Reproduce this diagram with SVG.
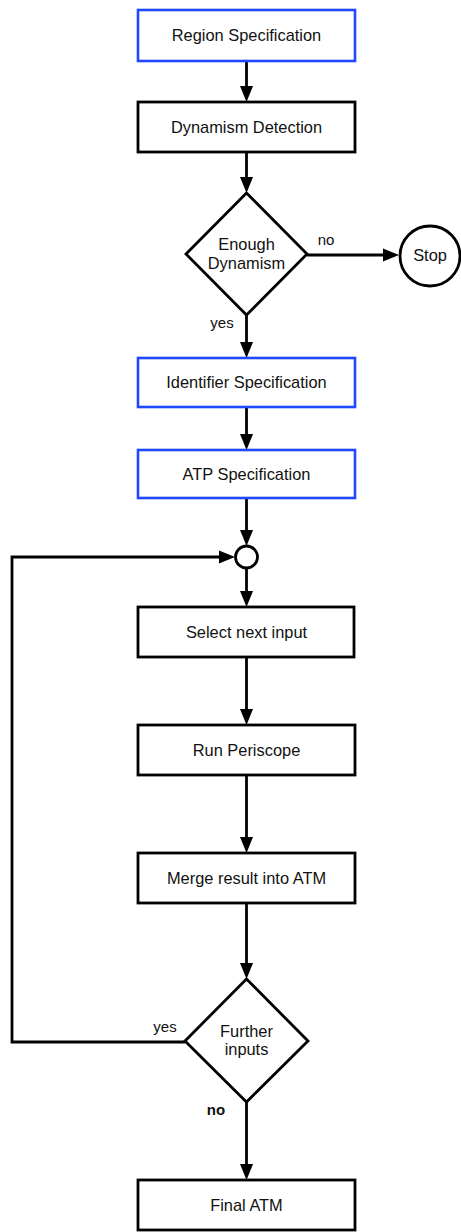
<svg xmlns="http://www.w3.org/2000/svg" width="461" height="1232" viewBox="0 0 461 1232">
<style>
.box{fill:#fff;stroke:#000;stroke-width:2.8}
.blue{fill:#fff;stroke:#1f48ff;stroke-width:2.6}
.c{fill:none;stroke:#000;stroke-width:2.8}
text{font-family:"Liberation Sans",Arial,sans-serif;font-size:16.4px;fill:#111;text-anchor:middle}
.lbl{font-size:15px}
.bold{font-weight:bold}
</style>
<defs>
<marker id="ah" markerUnits="userSpaceOnUse" markerWidth="16" markerHeight="14" refX="4" refY="7" orient="auto">
<path d="M0,0.5 L16,7 L0,13.5 z" fill="#000"/>
</marker>
</defs>
<rect width="461" height="1232" fill="#fff"/>
<g id="connectors">
<line class="c" x1="246.5" y1="61" x2="246.5" y2="90" marker-end="url(#ah)"/>
<line class="c" x1="246.5" y1="152" x2="246.5" y2="181" marker-end="url(#ah)"/>
<line class="c" x1="307" y1="255" x2="387" y2="255" marker-end="url(#ah)"/>
<line class="c" x1="246.5" y1="315" x2="246.5" y2="346" marker-end="url(#ah)"/>
<line class="c" x1="246.5" y1="407" x2="246.5" y2="438" marker-end="url(#ah)"/>
<line class="c" x1="246.5" y1="498" x2="246.5" y2="534" marker-end="url(#ah)"/>
<line class="c" x1="246.5" y1="568" x2="246.5" y2="595" marker-end="url(#ah)"/>
<line class="c" x1="246.5" y1="657" x2="246.5" y2="713" marker-end="url(#ah)"/>
<line class="c" x1="246.5" y1="775" x2="246.5" y2="841" marker-end="url(#ah)"/>
<line class="c" x1="246.5" y1="903" x2="246.5" y2="967" marker-end="url(#ah)"/>
<line class="c" x1="246.5" y1="1102" x2="246.5" y2="1168" marker-end="url(#ah)"/>
<polyline class="c" points="185,1042 12,1042 12,557 223,557" marker-end="url(#ah)"/>
<text class="lbl" x="326" y="245">no</text>
<text class="lbl" x="222" y="328">yes</text>
<text class="lbl" x="165" y="1032">yes</text>
<text class="lbl bold" x="216" y="1115">no</text>
</g>
<g id="region-spec"><rect class="blue" x="138" y="10" width="217" height="51"/><text x="246.5" y="41">Region Specification</text></g>
<g id="dynamism-detection"><rect class="box" x="138" y="102" width="217" height="50"/><text x="246.5" y="133">Dynamism Detection</text></g>
<g id="enough-dynamism"><polygon class="box" points="246.5,193 307,254 246.5,315 186,254"/><text x="246.5" y="250">Enough</text><text x="246.5" y="269">Dynamism</text></g>
<g id="stop"><circle class="box" cx="430" cy="256" r="30"/><text x="430" y="261">Stop</text></g>
<g id="identifier-spec"><rect class="blue" x="138" y="358" width="217" height="49"/><text x="246.5" y="388">Identifier Specification</text></g>
<g id="atp-spec"><rect class="blue" x="138" y="450" width="217" height="48"/><text x="246.5" y="480">ATP Specification</text></g>
<g id="junction"><circle class="box" cx="246.5" cy="557" r="11"/></g>
<g id="select-input"><rect class="box" x="138" y="607" width="216" height="50"/><text x="246.5" y="638">Select next input</text></g>
<g id="run-periscope"><rect class="box" x="138" y="725" width="217" height="50"/><text x="246.5" y="756">Run Periscope</text></g>
<g id="merge-result"><rect class="box" x="138" y="853" width="217" height="50"/><text x="246.5" y="884">Merge result into ATM</text></g>
<g id="further-inputs"><polygon class="box" points="246.5,979 308,1041 246.5,1102 185,1041"/><text x="246.5" y="1037">Further</text><text x="246.5" y="1055">inputs</text></g>
<g id="final-atm"><rect class="box" x="138" y="1180" width="217" height="50"/><text x="246.5" y="1211">Final ATM</text></g>
</svg>
